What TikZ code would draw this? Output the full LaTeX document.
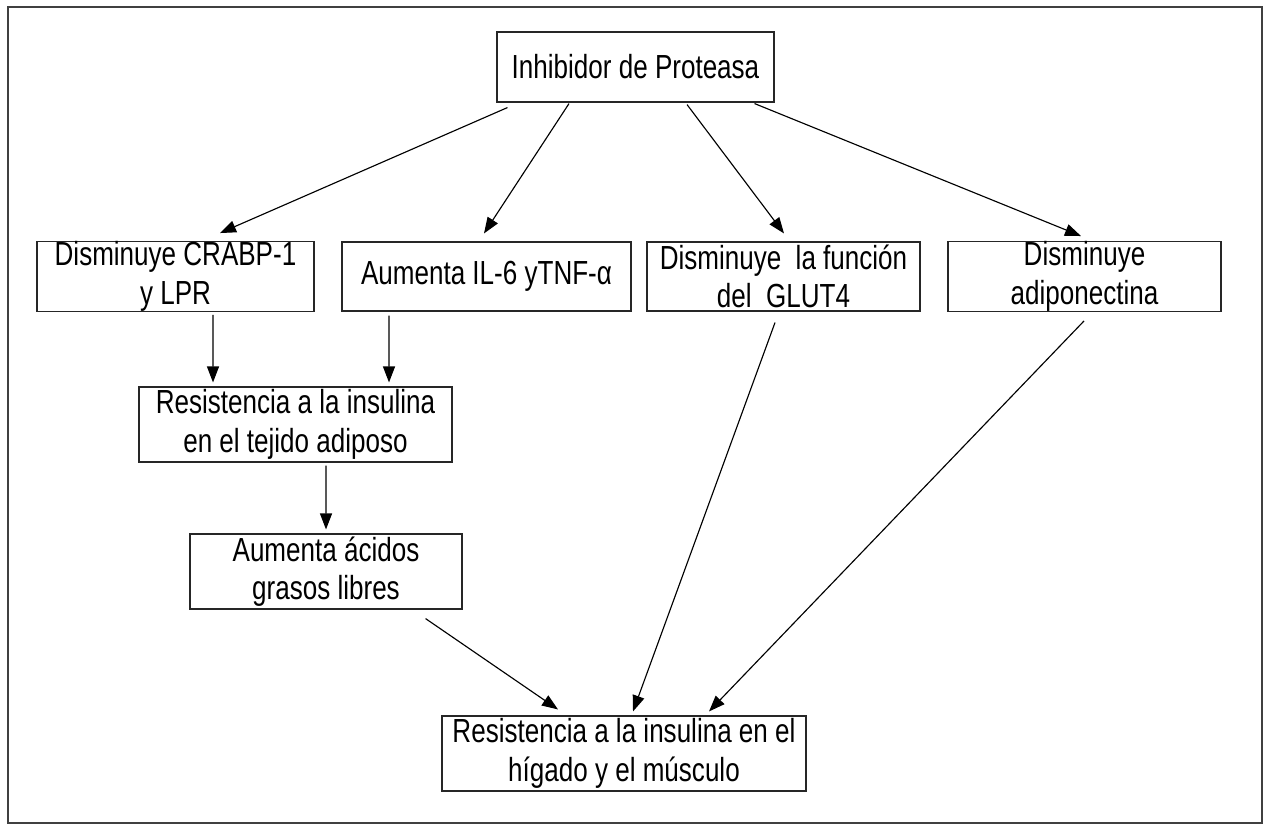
\documentclass[tikz,border=0pt]{standalone}
\usepackage{fontspec}
\setmainfont{Liberation Sans}[FakeStretch=0.78]
\usetikzlibrary{arrows.meta,calc}
\begin{document}
\begin{tikzpicture}
[
 x=0.02cm, y=-0.02cm,
 inner sep=0mm,
 BOX/.style={rectangle, draw=black!85, fill=white, line width=0.65pt, align=center, font=\fontsize{19}{22}\selectfont},
 ARR/.style={draw=black, line width=0.65pt, -{Triangle[length=0.32cm,width=0.24cm]}},
 ]
%
\useasboundingbox (0,0) rectangle (1266,825);
\draw [black!75, line width=0.8pt] (8,7) rectangle (1262,823);
%
\node [BOX, minimum width=5.54cm, minimum height=1.40cm] (IP)  at (635.5,67)    {Inhibidor de Proteasa};
%
\node [BOX, minimum width=5.54cm, minimum height=1.38cm] (DCR) at (175.5,276.5)  {Disminuye CRABP-1\\y LPR};
\node [BOX, minimum width=5.78cm, minimum height=1.38cm] (AIL) at (486.5,276.5)  {Aumenta IL-6 yTNF-α};
\node [BOX, minimum width=5.46cm, minimum height=1.38cm] (DGL) at (783.5,276.5)  {Disminuye\ \ la función\\del\ \ GLUT4};
\node [BOX, minimum width=5.46cm, minimum height=1.38cm] (DAD) at (1084.5,276.5) {Disminuye\\adiponectina};
%
\node [BOX, minimum width=6.26cm, minimum height=1.50cm] (RTA) at (295.5,424.5)  {Resistencia a la insulina\\en el tejido adiposo};
\node [BOX, minimum width=5.44cm, minimum height=1.50cm] (AAG) at (326,571.5)    {Aumenta ácidos\\grasos libres};
\node [BOX, minimum width=7.28cm, minimum height=1.50cm] (RHM) at (624,753.5)    {Resistencia a la insulina en el\\hígado y el músculo};
%
\draw [ARR]  ($(IP.south west)+(11,5)$)  -- ($(DCR.north)+(44.5,-8)$) ;
\draw [ARR]  ($(IP.south)+(-66.5,1)$)    -- ($(AIL.north)+(-2.5,-8)$) ;
\draw [ARR]  ($(IP.south)+(51.5,2)$)     -- ($(DGL.north)+(0.5,-8)$) ;
\draw [ARR]  ($(IP.south east)+(-20,1)$) -- ($(DAD.north)+(-3.5,-5)$) ;
%
\draw [ARR]  ($(DCR.south)+(37.5,3)$)    -- ($(RTA.north)+(-82.5,-4)$) ;
\draw [ARR]  ($(AIL.south)+(-97.5,4)$)   -- ($(RTA.north)+(93.5,-4)$) ;
\draw [ARR]  ($(RTA.south)+(30.5,3)$)    -- ($(AAG.north)+(0,-4)$) ;
%
\draw [ARR]  ($(AAG.south east)+(-37,9)$) -- ($(RHM.north)+(-66,-6)$) ;
\draw [ARR]  ($(DGL.south)+(-8.5,11)$)    -- ($(RHM.north)+(9,-4)$) ;
\draw [ARR]  ($(DAD.south)+(-0.5,9)$)     -- ($(RHM.north)+(85,-4)$) ;
%
\end{tikzpicture}
\end{document}
